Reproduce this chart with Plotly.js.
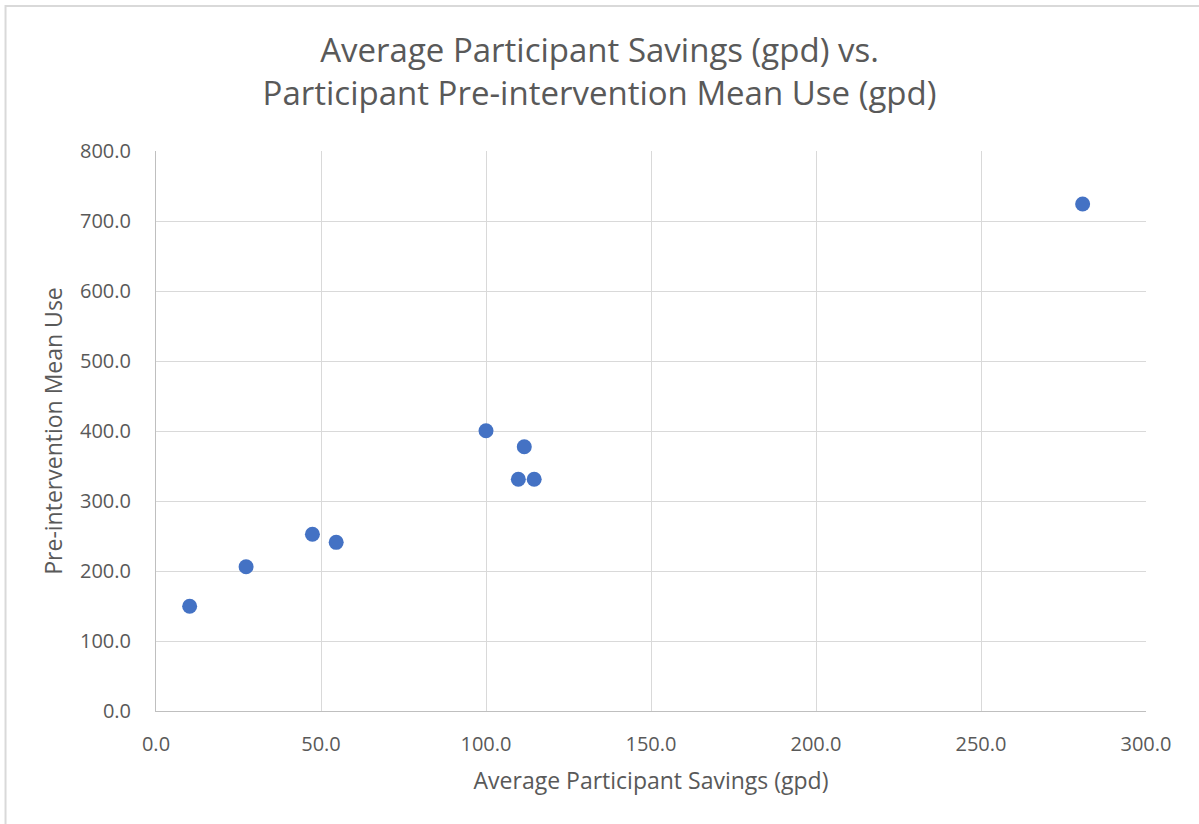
<!DOCTYPE html>
<html>
<head>
<meta charset="utf-8">
<script src="https://cdn.plot.ly/plotly-3.0.1.min.js"></script>
<style>
  html, body { margin: 0; padding: 0; background: #ffffff; }
  #chart { width: 1199px; height: 824px; }
</style>
</head>
<body>
<div id="chart"></div>
<script>
// Average participant savings (gpd) per group
const savings = [10.2, 27.3, 47.4, 54.6, 100.0, 111.6, 109.8, 114.6, 280.8];
// Pre-intervention mean use (gpd) for the same groups
const preUse = [149.6, 206.0, 252.4, 240.9, 400.4, 377.6, 331.0, 331.0, 724.3];

const xTicks = [0, 50, 100, 150, 200, 250, 300];
const yTicks = [0, 100, 200, 300, 400, 500, 600, 700, 800];

const titleLines = [
  'Average Participant Savings (gpd) vs.',
  'Participant Pre-intervention Mean Use (gpd)'
];

const font = 'Open Sans, sans-serif';
const grey = '#595959';
const gridGrey = '#d9d9d9';

const trace = {
  type: 'scatter',
  mode: 'markers',
  x: savings,
  y: preUse,
  marker: { color: '#4472C4', size: 15, line: { width: 0 } },
  hoverinfo: 'x+y'
};

const layout = {
  width: 1199,
  height: 824,
  margin: { l: 156, r: 53, t: 151, b: 113 },
  paper_bgcolor: '#ffffff',
  plot_bgcolor: '#ffffff',
  showlegend: false,
  title: {
    text: titleLines.join('<br>'),
    font: { family: font, size: 33, color: grey },
    x: 0.5, xanchor: 'center',
    y: 0.925, yanchor: 'top'
  },
  xaxis: {
    range: [0, 300],
    tickvals: xTicks,
    ticktext: xTicks.map(v => v.toFixed(1)),
    showgrid: true,
    gridcolor: gridGrey,
    gridwidth: 1,
    zeroline: false,
    showline: true,
    linecolor: '#bfbfbf',
    linewidth: 1,
    ticks: 'outside',
    ticklen: 15,
    tickcolor: 'rgba(0,0,0,0)',
    tickfont: { family: font, size: 20, color: grey },
    title: {
      text: 'Average Participant Savings (gpd)',
      font: { family: font, size: 23, color: grey },
      standoff: 16
    },
    fixedrange: true
  },
  yaxis: {
    range: [0, 800],
    tickvals: yTicks,
    ticktext: yTicks.map(v => v.toFixed(1)),
    showgrid: true,
    gridcolor: gridGrey,
    gridwidth: 1,
    zeroline: false,
    showline: true,
    linecolor: '#bfbfbf',
    linewidth: 1,
    ticks: 'outside',
    ticklen: 20,
    tickcolor: 'rgba(0,0,0,0)',
    tickfont: { family: font, size: 20, color: grey },
    title: {
      text: 'Pre-intervention Mean Use',
      font: { family: font, size: 23, color: grey },
      standoff: 10
    },
    fixedrange: true
  },
  shapes: [{
    type: 'rect',
    xref: 'paper', yref: 'paper',
    x0: -0.152, x1: 1.2,
    y0: -0.3, y1: 1.259,
    line: { color: '#d9d9d9', width: 2 },
    fillcolor: 'rgba(0,0,0,0)',
    layer: 'below'
  }]
};

Plotly.newPlot('chart', [trace], layout, { displayModeBar: false });
</script>
</body>
</html>
